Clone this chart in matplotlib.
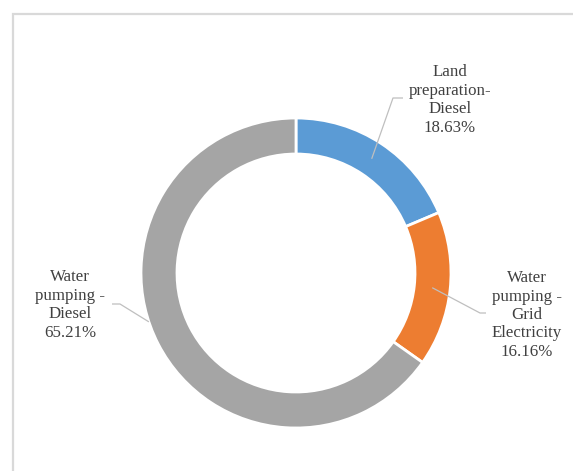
import numpy as np
import matplotlib
matplotlib.use("Agg")
from matplotlib import pyplot as plt
from matplotlib.patches import Rectangle


labels = ["Land\npreparation-\nDiesel", "Water\npumping -\nGrid\nElectricity", "Water\npumping -\nDiesel"]
shares = [18.63, 16.16, 65.21]
colors = ["#5B9BD5", "#ED7D31", "#A5A5A5"]

W, H = 573, 471
cx, cy = 296, H - 273
r_out, r_in = 155, 119

# label centre (px), elbow (px), leader tip as (angle shift deg, radius)
label_pos = [(450, H - 100), (527, H - 315), (70, H - 305)]
elbows = [((393, H - 98), (403, H - 98)),
          ((480, H - 313), (486, H - 313)),
          ((120, H - 304), (112, H - 304))]
tips = [(0, (r_in + r_out) / 2), (0, (r_in + r_out) / 2), (-9, r_out)]

fig = plt.figure(figsize=(W / 100, H / 100), dpi=100)
ax = fig.add_axes([0, 0, 1, 1])

# chart frame, only top and left edges fall inside the image
ax.add_patch(Rectangle((12.5, -20), W + 40, H - 13.5 + 20, fill=False,
                       edgecolor="#d9d9d9", linewidth=1.6))

wedges, _ = ax.pie(shares, colors=colors, startangle=90, counterclock=False,
                   center=(cx, cy), radius=r_out, frame=True,
                   wedgeprops=dict(width=r_out - r_in, edgecolor="white", linewidth=2))
ax.set_xlim(0, W)
ax.set_ylim(0, H)
ax.set_aspect("equal")
ax.axis("off")

for w, lab, v, pos, elb, tip in zip(wedges, labels, shares, label_pos, elbows, tips):
    ang = np.deg2rad((w.theta1 + w.theta2) / 2 + tip[0])
    tx = cx + tip[1] * np.cos(ang)
    ty = cy + tip[1] * np.sin(ang)
    ax.plot([tx, elb[0][0], elb[1][0]], [ty, elb[0][1], elb[1][1]],
            color="#bfbfbf", linewidth=0.9, solid_capstyle="butt")
    ax.text(pos[0], pos[1], f"{lab}\n{v:.2f}%", ha="center", va="center",
            family="Liberation Serif", fontsize=12.2, color="#404040",
            linespacing=1.2)

fig.savefig("out.png", dpi=100)
